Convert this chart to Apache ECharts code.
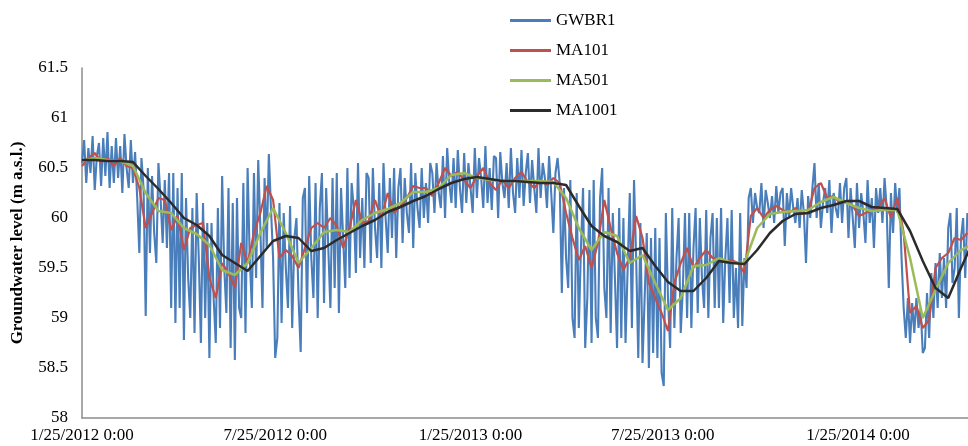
<!DOCTYPE html>
<html>
<head>
<meta charset="utf-8">
<script src="https://cdn.jsdelivr.net/npm/echarts@6/dist/echarts.min.js"></script>
<style>
html,body{margin:0;padding:0;background:#fff;}
#chart{width:968px;height:446px;}
</style>
</head>
<body>
<div id="chart"></div>
<script>
// ---- data ----
const startDate = '2012-01-25';
const endDayOffset = 834.6;               // right edge of the visible plot, in days after start
const tickDates = ['2012-01-25', '2012-07-25', '2013-01-25', '2013-07-25', '2014-01-25'];
const tickLabels = ['1/25/2012 0:00', '7/25/2012 0:00', '1/25/2013 0:00', '7/25/2013 0:00', '1/25/2014 0:00'];
const seriesNames = ['GWBR1', 'MA101', 'MA501', 'MA1001'];

// GWBR1: one reading every 2 days
const gwbr1Step = 2;
const gwbr1 = [
  60.55, 60.78, 60.35, 60.70, 60.45, 60.82, 60.28, 60.62, 60.75, 60.32, 60.80, 60.42, 60.86, 60.30, 60.72,
  60.35, 60.80, 60.40, 60.72, 60.25, 60.84, 60.50, 60.30, 60.78, 60.35, 60.66, 60.20, 59.65, 60.60, 60.30,
  59.02, 60.50, 59.65, 60.42, 59.85, 59.55, 60.55, 60.20, 59.75, 60.38, 59.70, 60.45, 59.10, 60.45, 58.95,
  60.30, 59.10, 60.45, 58.78, 60.20, 59.40, 59.00, 60.10, 58.85, 60.25, 59.60, 58.75, 60.15, 59.00, 59.95,
  58.60, 59.95, 59.20, 58.75, 60.10, 58.90, 60.42, 59.50, 59.05, 60.30, 58.70, 60.15, 58.58, 60.20, 59.10,
  59.00, 60.35, 58.85, 60.50, 59.60, 59.10, 60.45, 59.40, 60.58, 59.90, 59.10, 60.40, 59.70, 60.64, 60.10,
  59.60, 58.60, 58.80, 60.15, 58.95, 60.05, 59.50, 59.10, 60.12, 58.90, 59.80, 60.00, 59.20, 58.66, 60.20,
  60.30, 59.05, 60.42, 59.60, 59.20, 60.35, 59.00, 60.10, 60.45, 59.15, 60.30, 59.70, 59.10, 60.40, 59.30,
  60.45, 59.05, 60.30, 59.80, 59.30, 60.50, 59.40, 60.35, 60.10, 59.45, 60.55, 59.60, 60.20, 59.50, 60.45,
  60.40, 59.55, 60.50, 59.90, 59.60, 60.35, 59.50, 60.55, 60.00, 59.65, 60.40, 59.80, 60.50, 59.60, 60.30,
  60.50, 59.75, 60.40, 60.05, 59.85, 60.55, 59.70, 60.45, 60.10, 59.90, 60.50, 60.00, 60.35, 59.95, 60.55,
  60.45, 60.05, 60.55, 60.25, 60.10, 60.62, 60.00, 60.70, 60.35, 60.15, 60.60, 60.10, 60.68, 60.30, 60.05,
  60.65, 60.15, 60.55, 60.30, 60.05, 60.70, 60.20, 60.60, 60.40, 60.10, 60.72, 60.15, 60.50, 60.08, 60.62,
  60.60, 60.00, 60.66, 60.35, 60.20, 60.55, 60.10, 60.70, 60.25, 60.05, 60.60, 60.20, 60.68, 60.12, 60.45,
  60.65, 60.15, 60.58, 60.30, 60.05, 60.70, 60.20, 60.55, 60.40, 60.10, 60.62, 60.25, 59.85, 60.45, 60.60,
  60.35, 59.25, 60.30, 59.60, 59.30, 60.38, 59.00, 58.80, 60.25, 58.90, 59.70, 60.30, 58.70, 59.20, 60.28,
  58.75, 60.38, 59.00, 58.80, 60.20, 60.50, 59.30, 59.00, 60.30, 58.85, 60.05, 59.40, 58.70, 60.10, 58.80,
  60.00, 58.75, 59.50, 60.25, 58.90, 60.38, 59.60, 58.60, 59.95, 58.55, 59.20, 59.85, 58.50, 59.80, 58.65,
  59.90, 58.60, 59.80, 58.45, 58.32, 60.05, 59.20, 58.70, 60.10, 58.90, 59.60, 60.00, 58.85, 59.30, 60.05,
  59.00, 60.05, 58.90, 59.70, 60.10, 59.05, 60.00, 59.40, 59.10, 60.08, 59.00, 59.80, 60.05, 59.10, 60.00,
  59.10, 60.10, 58.95, 59.60, 60.00, 59.15, 60.08, 59.00, 59.50, 58.90, 60.05, 58.92, 59.60, 59.30, 60.20,
  60.30, 59.95, 60.25, 60.10, 60.05, 60.35, 59.90, 60.28, 60.15, 60.00, 60.22, 59.95, 60.32, 60.05, 60.25,
  60.30, 59.72, 60.25, 60.00, 60.30, 60.10, 59.95, 60.20, 59.90, 60.28, 60.05, 59.55, 60.22, 60.00, 60.30,
  60.55, 60.00, 60.35, 59.90, 60.15, 60.30, 60.05, 60.38, 59.85, 60.25, 60.10, 60.00, 60.35, 59.95, 60.30,
  60.40, 59.80, 60.30, 60.00, 59.70, 60.35, 59.90, 60.25, 60.05, 59.75, 60.38, 59.95, 60.20, 59.70, 60.30,
  60.05, 60.30, 59.95, 60.40, 60.10, 59.30, 60.25, 59.85, 60.35, 60.05, 60.30, 59.60, 59.10, 58.80, 59.20,
  58.75, 59.15, 58.85, 59.20, 58.90, 59.10, 58.65, 58.70, 59.25, 58.80, 59.45, 59.00, 59.55, 59.10, 59.65,
  59.20, 59.60, 59.10, 59.90, 60.05, 59.35, 59.50, 60.10, 59.00, 59.80, 60.00, 59.40, 60.05
];

// MA101: one value every 6 days
const ma101Step = 6;
const ma101 = [
  60.52, 60.60, 60.65, 60.56, 60.60, 60.52, 60.60, 60.52, 60.50, 60.30,
  59.90, 60.05, 60.20, 60.18, 59.88, 60.02, 59.68, 59.90, 59.93, 59.95,
  59.40, 59.20, 59.55, 59.45, 59.30, 59.75, 59.55, 59.85, 60.05, 60.32,
  60.18, 59.60, 59.68, 59.62, 59.50, 59.70, 59.90, 59.95, 59.90, 60.00,
  59.92, 59.70, 59.90, 60.18, 59.95, 59.97, 60.18, 60.00, 60.25, 60.05,
  60.12, 60.20, 60.32, 60.30, 60.30, 60.22, 60.35, 60.50, 60.42, 60.46,
  60.38, 60.30, 60.42, 60.50, 60.35, 60.28, 60.38, 60.30, 60.40, 60.46,
  60.36, 60.30, 60.38, 60.33, 60.40, 60.35, 60.05, 59.80, 59.58, 59.72,
  59.50, 59.75, 60.18, 59.90, 59.65, 59.48, 59.60, 60.02, 59.80, 59.35,
  59.20, 59.05, 58.87, 59.35, 59.55, 59.70, 59.50, 59.60, 59.68, 59.60,
  59.60, 59.55, 59.58, 59.55, 59.45, 60.02, 60.10, 60.00, 60.08, 60.12,
  60.08, 60.05, 60.10, 60.04, 60.05, 60.30, 60.35, 60.20, 60.22, 60.15,
  60.16, 60.12, 60.02, 60.05, 60.08, 60.10, 60.20, 60.00, 60.20, 59.85,
  59.05, 59.12, 58.90, 58.98, 59.50, 59.60, 59.65, 59.80, 59.78, 59.85
];

// MA501 and MA1001: one value every 12 days
const maLongStep = 12;
const ma501 = [
  60.57, 60.60, 60.58, 60.57, 60.52, 60.25, 60.07, 60.05, 59.90, 59.84,
  59.73, 59.48, 59.43, 59.55, 59.85, 60.10, 59.85, 59.55, 59.70, 59.86,
  59.88, 59.86, 59.98, 60.05, 60.09, 60.15, 60.26, 60.26, 60.30, 60.43,
  60.45, 60.40, 60.38, 60.37, 60.37, 60.37, 60.37, 60.36, 60.20, 59.90,
  59.68, 59.86, 59.82, 59.55, 59.63, 59.35, 59.08, 59.20, 59.52, 59.53,
  59.60, 59.55, 59.55, 59.90, 60.04, 60.06, 60.07, 60.08, 60.16, 60.21,
  60.15, 60.10, 60.07, 60.08, 60.08, 59.60, 59.00, 59.28, 59.55, 59.68,
  59.74
];
const ma1001 = [
  60.58, 60.58, 60.57, 60.57, 60.56, 60.42, 60.29, 60.15, 60.00, 59.93,
  59.82, 59.63, 59.55, 59.47, 59.62, 59.77, 59.82, 59.80, 59.67, 59.70,
  59.78, 59.85, 59.92, 59.98, 60.06, 60.11, 60.17, 60.22, 60.29, 60.35,
  60.39, 60.41, 60.39, 60.37, 60.37, 60.36, 60.35, 60.35, 60.33, 60.12,
  59.92, 59.82, 59.76, 59.67, 59.70, 59.52, 59.36, 59.27, 59.27, 59.40,
  59.57, 59.55, 59.54, 59.68, 59.85, 59.97, 60.04, 60.05, 60.10, 60.13,
  60.17, 60.17, 60.11, 60.10, 60.09, 59.87, 59.57, 59.30, 59.20, 59.50,
  59.78
];

// ---- build ----
const DAY = 86400000;
const t0 = Date.parse(startDate + 'T00:00:00Z');
// x values are days elapsed since startDate
const tickDays = tickDates.map(d => Math.round((Date.parse(d + 'T00:00:00Z') - t0) / DAY));
const toPairs = (vals, step) => vals.map((v, i) => [i * step, v]);
const fontFam = '"Liberation Serif", "Times New Roman", serif';

const chart = echarts.init(document.getElementById('chart'), null, {renderer: 'canvas'});
chart.setOption({
  animation: false,
  backgroundColor: '#ffffff',
  grid: {left: 82, right: 0, top: 68, bottom: 28},
  legend: {
    orient: 'vertical', left: 505, top: 7,
    icon: 'rect',
    itemWidth: 41, itemHeight: 3, itemGap: 13,
    data: seriesNames,
    textStyle: {fontFamily: fontFam, fontSize: 17, color: '#000'}
  },
  xAxis: {
    type: 'value',
    min: 0, max: endDayOffset,
    axisLine: {lineStyle: {color: '#8c8c8c', width: 1.5}},
    axisTick: {show: false},
    splitLine: {show: false},
    axisLabel: {
      customValues: tickDays,
      formatter: (v) => {
        const idx = tickDays.indexOf(Math.round(v));
        return idx >= 0 ? tickLabels[idx] : '';
      },
      fontFamily: fontFam, fontSize: 17, color: '#000', margin: 9
    }
  },
  yAxis: {
    type: 'value', min: 58, max: 61.5, interval: 0.5,
    axisLine: {show: true, lineStyle: {color: '#8c8c8c', width: 1.5}},
    axisTick: {show: false},
    splitLine: {show: false},
    axisLabel: {fontFamily: fontFam, fontSize: 17, color: '#000', margin: 14},
    name: 'Groundwater level (m a.s.l.)',
    nameLocation: 'middle', nameGap: 56,
    nameTextStyle: {fontFamily: fontFam, fontSize: 17, fontWeight: 'bold', color: '#000'}
  },
  series: [
    {name: seriesNames[0], type: 'line', symbol: 'none', data: toPairs(gwbr1, gwbr1Step),
     color: '#4a7ebb', lineStyle: {width: 2.1, color: '#4a7ebb'}},
    {name: seriesNames[1], type: 'line', symbol: 'none', data: toPairs(ma101, ma101Step),
     color: '#c0504d', lineStyle: {width: 2.2, color: '#c0504d'}},
    {name: seriesNames[2], type: 'line', symbol: 'none', data: toPairs(ma501, maLongStep),
     color: '#9bbb59', lineStyle: {width: 2.5, color: '#9bbb59'}},
    {name: seriesNames[3], type: 'line', symbol: 'none', data: toPairs(ma1001, maLongStep),
     color: '#2b2b2b', lineStyle: {width: 2.5, color: '#2b2b2b'}}
  ]
});
</script>
</body>
</html>
